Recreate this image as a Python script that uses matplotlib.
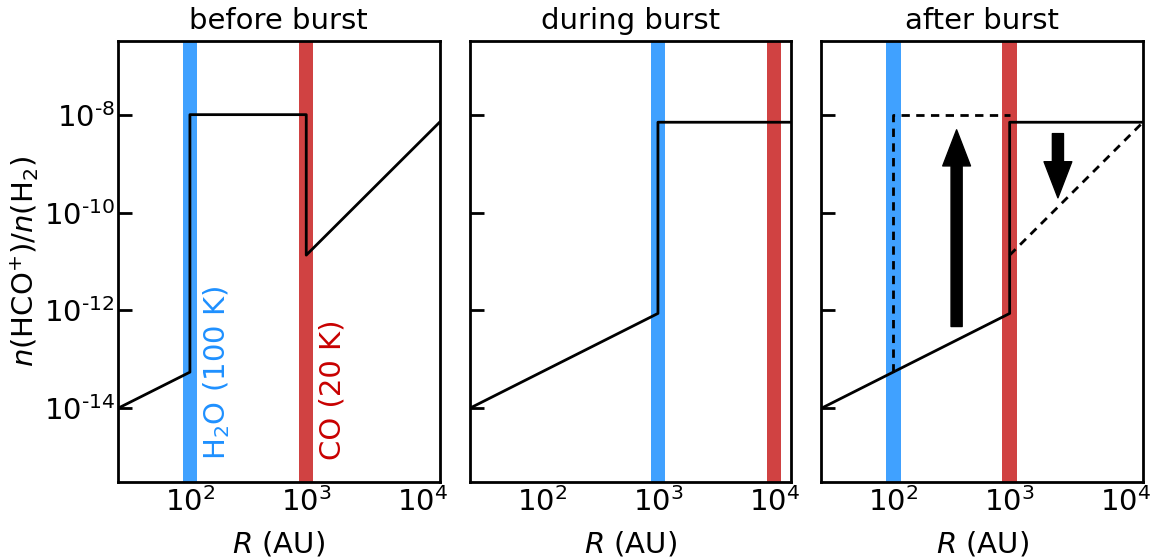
import numpy as np
import matplotlib.pyplot as plt

# profiles of n(HCO+)/n(H2) against radius (AU)
titles = ["before burst", "during burst", "after burst"]

before_r = [24, 100, 100, 1000, 1000, 14000]
before_x = [1e-14, 5.5e-14, 1e-8, 1e-8, 1.35e-11, 7e-9]

during_r = [24, 1000, 1000, 14000]
during_x = [1e-14, 8.7e-13, 7e-9, 7e-9]

# after burst: solid = current, dashed = relaxing back to pre-burst state
after_r = [24, 1000, 1000, 14000]
after_x = [1e-14, 8.7e-13, 7e-9, 7e-9]
after_dash1_r = [100, 100, 1000]
after_dash1_x = [5.5e-14, 1e-8, 1e-8]
after_dash2_r = [1000, 14000]
after_dash2_x = [1.35e-11, 7e-9]

# snow lines (AU) per panel: (H2O, CO)
h2o_line = [100, 1000, 100]
co_line = [1000, 10000, 1000]

# arrows in panel 3: (r, start, end)
up_arrow = (350, 4.7e-13, 4.9e-9)
down_arrow = (2600, 4.1e-9, 2.0e-10)

ytick_vals = [1e-14, 1e-12, 1e-10, 1e-8]
ytick_labels = [r"$\mathdefault{10^{\text{-}14}}$", r"$\mathdefault{10^{\text{-}12}}$",
                r"$\mathdefault{10^{\text{-}10}}$", r"$\mathdefault{10^{\text{-}8}}$"]

blue_band = "#40a1ff"
red_band = "#d04242"
blue_text = "#1e90ff"
red_text = "#c80000"

fs = 21
fig, axes = plt.subplots(1, 3, figsize=(11.55, 5.57), dpi=100, sharey=True)
fig.subplots_adjust(left=0.102, right=0.9896, top=0.926, bottom=0.135, wspace=0.093)

half = 0.062
for i, ax in enumerate(axes):
    ax.set_xscale("log")
    ax.set_yscale("log")
    for r, c in [(h2o_line[i], blue_band), (co_line[i], red_band)]:
        ax.axvspan(r * 10**-half, r * 10**half, color=c, lw=0, zorder=1)
    ax.set_xlim(24, 14000)
    ax.set_ylim(10**-15.5, 10**-6.5)
    ax.set_title(titles[i], fontsize=fs, pad=8.5)
    ax.set_xlabel("$R$ (AU)", fontsize=fs, labelpad=9)
    ax.set_xticks([1e2, 1e3, 1e4])
    ax.set_yticks(ytick_vals)
    ax.set_yticklabels(ytick_labels)
    ax.minorticks_off()
    ax.tick_params(axis="x", length=0, labelsize=fs, pad=4)
    ax.tick_params(axis="y", direction="in", length=10, width=2, labelsize=fs, pad=2)
    for s in ax.spines.values():
        s.set_linewidth(2)

ax1, ax2, ax3 = axes
ax1.plot(before_r, before_x, color="k", lw=2, zorder=3)
ax2.plot(during_r, during_x, color="k", lw=2, zorder=3)
ax3.plot(after_r, after_x, color="k", lw=2, zorder=3)
ax3.plot(after_dash1_r, after_dash1_x, color="k", lw=2, ls=(0, (3, 2.3)), zorder=3)
ax3.plot(after_dash2_r, after_dash2_x, color="k", lw=2, ls=(0, (3, 2.3)), zorder=3)

for r, y0, y1 in [up_arrow, down_arrow]:
    ax3.annotate("", xy=(r, y1), xytext=(r, y0),
                 arrowprops=dict(facecolor="k", edgecolor="k", width=8,
                                 headwidth=20, headlength=26, shrink=0))

ax1.text(171, 10**-15.05, "H$_2$O (100 K)", rotation=90, color=blue_text,
         fontsize=fs, ha="center", va="bottom")
ax1.text(1675, 10**-15.05, "CO (20 K)", rotation=90, color=red_text,
         fontsize=fs, ha="center", va="bottom")

ax1.set_ylabel("$n$(HCO$^{+}$)/$n$(H$_2$)", fontsize=fs, labelpad=2)

fig.savefig("out.png")
